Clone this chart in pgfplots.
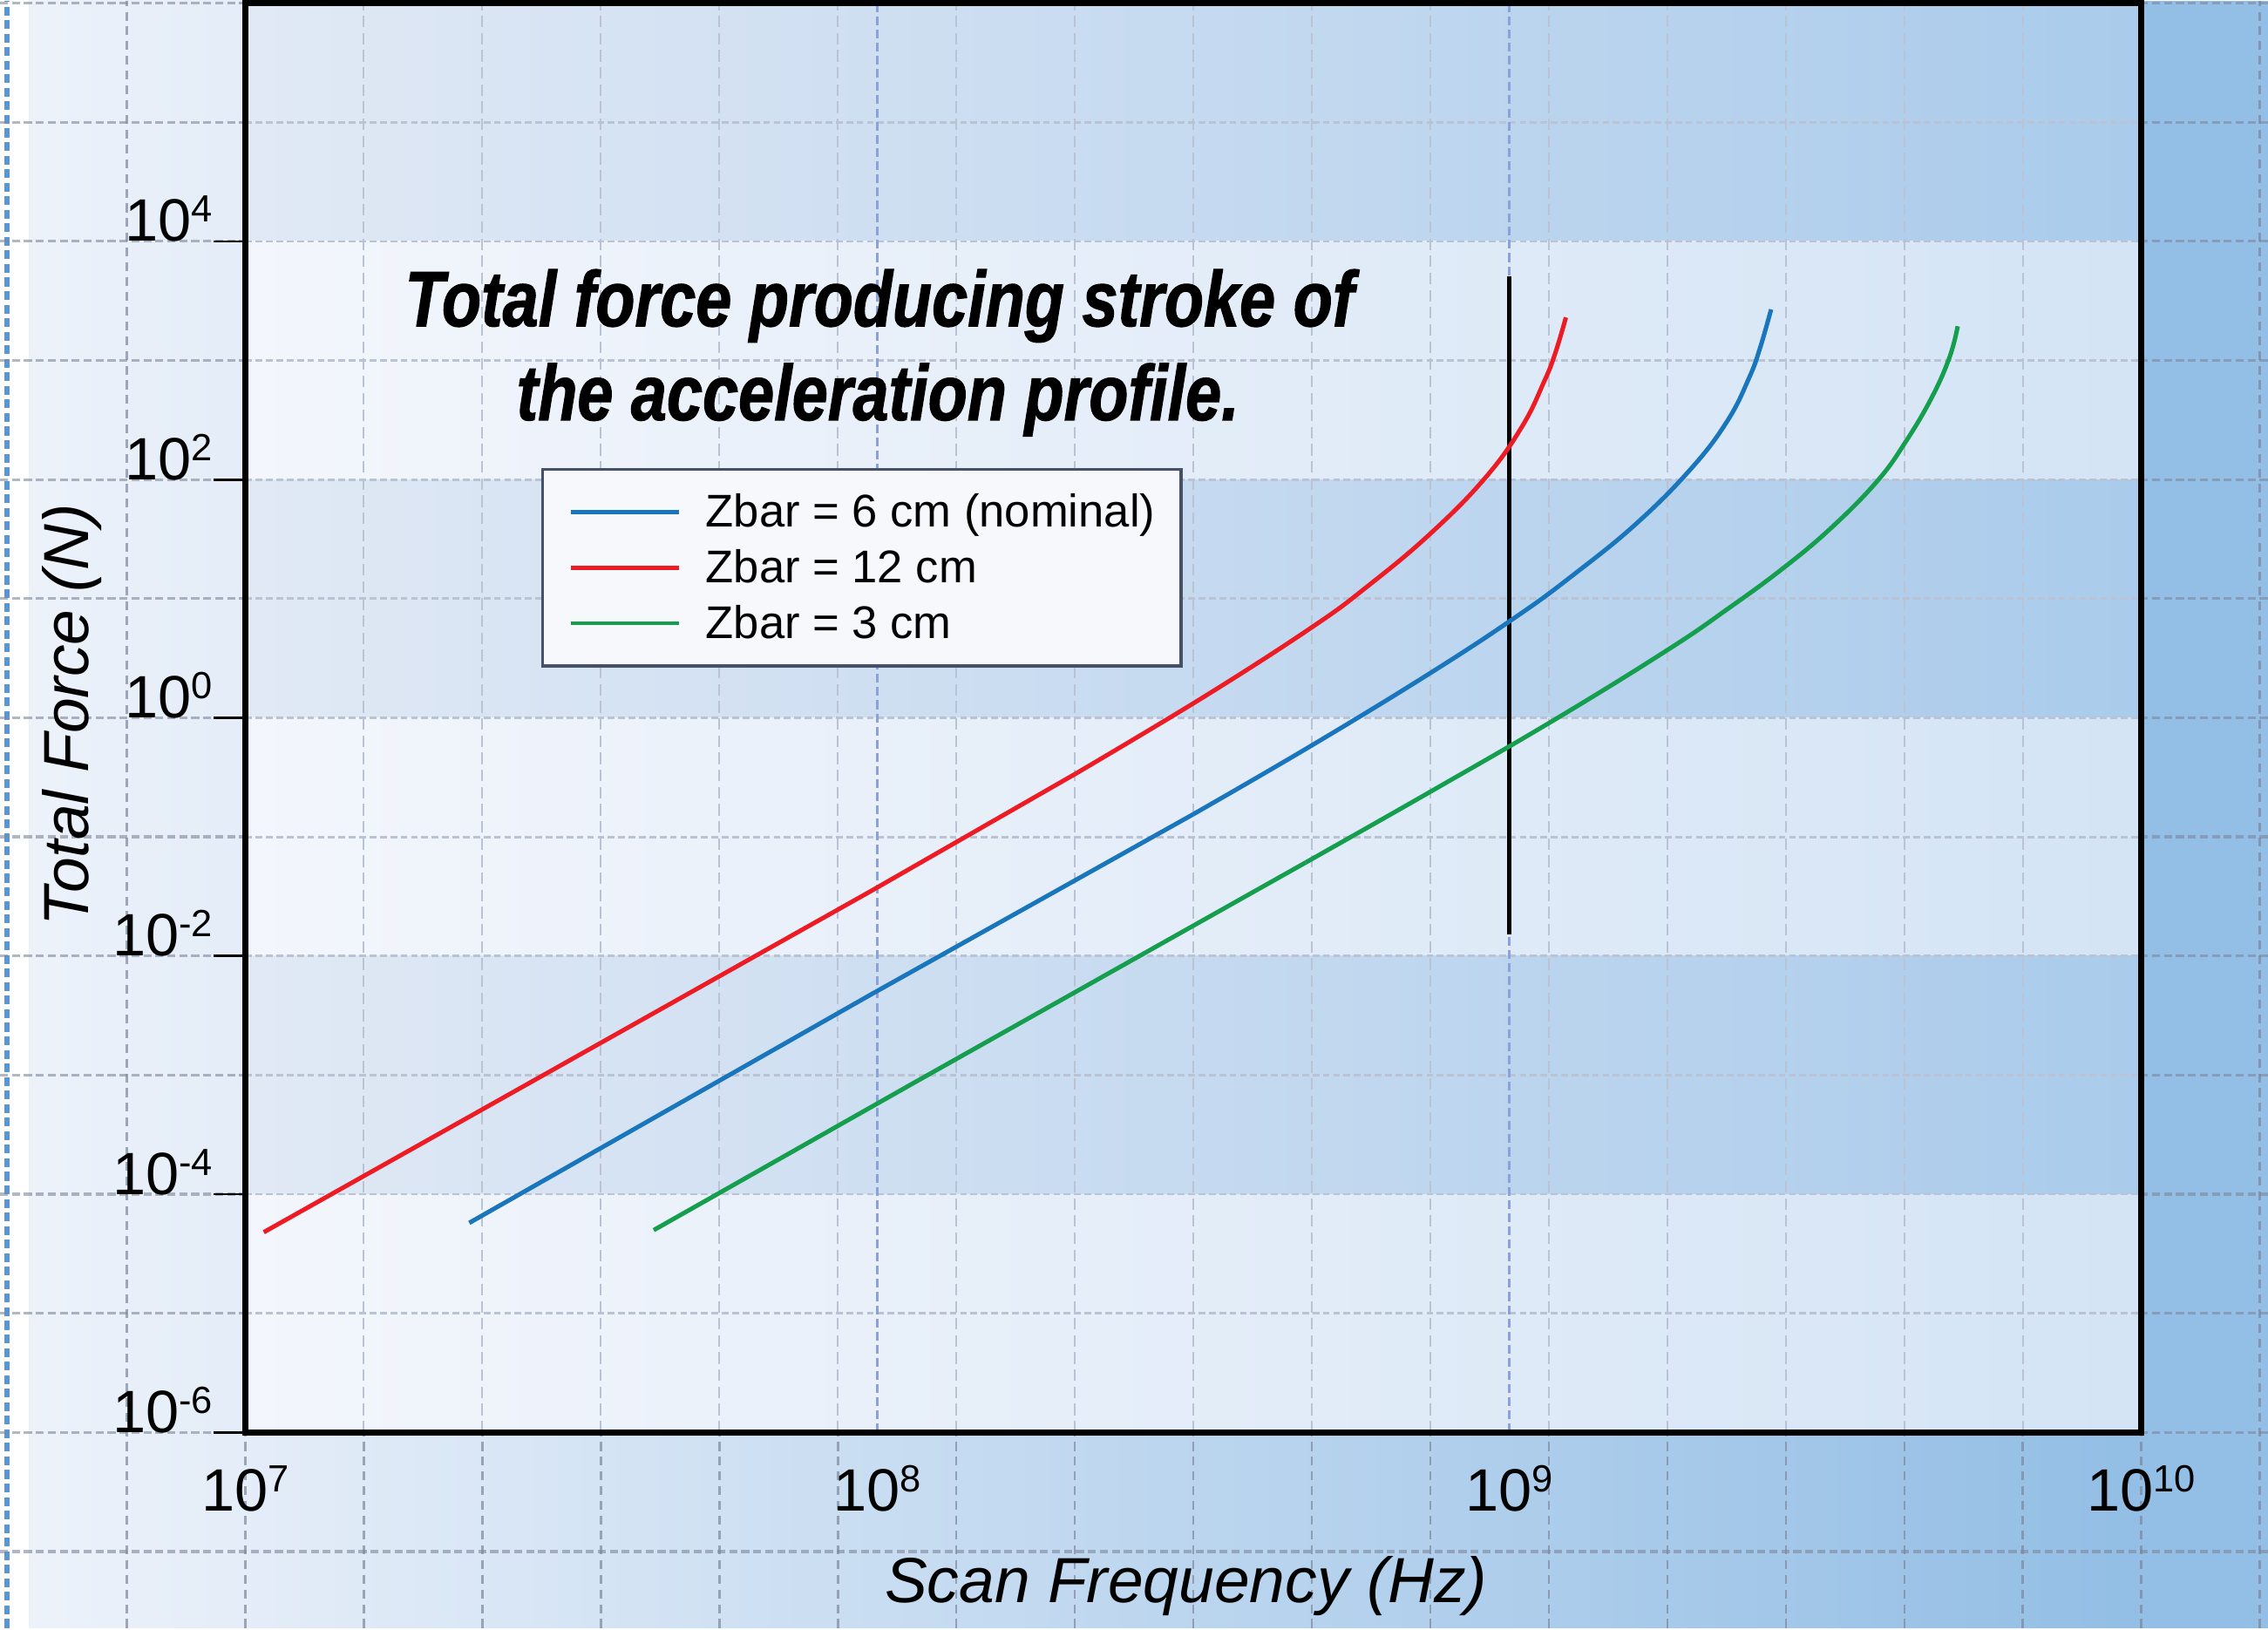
\documentclass[border=0pt]{standalone}
\usepackage{fontspec}
\setmainfont{Liberation Sans}
\newfontfamily\titlefont[FakeStretch=0.82,FakeBold=1.2]{Liberation Sans}
\usepackage{pgfplots}
\pgfplotsset{compat=1.18}

\definecolor{bgL}{RGB}{237,242,250}
\definecolor{bgR}{RGB}{147,190,229}
\definecolor{lbL}{RGB}{243,246,252}
\definecolor{lbR}{RGB}{212,228,245}
\definecolor{dbL}{RGB}{225,233,245}
\definecolor{dbR}{RGB}{170,203,235}
\definecolor{cRed}{RGB}{237,28,36}
\definecolor{cBlue}{RGB}{25,118,188}
\definecolor{cGreen}{RGB}{20,158,78}
\definecolor{gridOut}{RGB}{125,135,155}
\definecolor{gridIn}{RGB}{185,195,212}
\definecolor{gridBlue}{RGB}{140,160,218}
\definecolor{legBorder}{RGB}{70,80,102}
\definecolor{legFill}{RGB}{246,248,252}
\definecolor{edgeBlue}{RGB}{90,150,215}

\newcommand{\tl}[1]{10\raisebox{4.8pt}{\fontsize{9.5}{9.5}\selectfont#1}}

% Zbar = 6 cm (nominal): straight part and curved part
\pgfplotstableread{
x y
2.262e7 5.75e-5
9.79e7 4.78e-3
3.162e8 0.155
}\zsixA
\pgfplotstableread{
x y
3.162e8 0.155
4.87e8 0.587
7.505e8 2.382
1.0259e9 7.07
1.2616e9 15.8
1.5844e9 42.2
1.9354e9 122
2.2115e9 309
2.3955e9 715
2.4935e9 1278
2.5954e9 2684
}\zsixB

% Zbar = 12 cm
\pgfplotstableread{
x y
1.07e7 4.8e-5
9.79e7 3.53e-2
2.055e8 0.337
}\ztwelveA
\pgfplotstableread{
x y
2.055e8 0.337
3.274e8 1.481
4.861e8 5.716
5.976e8 12.80
7.505e8 35.27
9.167e8 103.9
1.0474e9 278.7
1.1348e9 662.2
1.1812e9 1137
1.229e9 2300
}\ztwelveB

% Zbar = 3 cm
\pgfplotstableread{
x y
4.43e7 5.0e-5
1.149e8 8.76e-4
4.763e8 0.061
}\zthreeA
\pgfplotstableread{
x y
4.763e8 0.061
7.505e8 0.24
1.178e9 0.961
1.785e9 3.751
2.224e9 8.33
2.699e9 17.69
3.221e9 38.76
3.817e9 96.5
4.243e9 210.1
4.667e9 496.6
4.973e9 1069
5.122e9 1939
}\zthreeB

\begin{document}
\begin{tikzpicture}
\begin{scope}[x=0.0127551cm,y=0.0127551cm]
\path[use as bounding box] (0,0) rectangle (1568,1125);
\fill[white] (0,0) rectangle (1568,1125);
\shade[left color=bgL,right color=bgR] (20,0) rectangle (1480.5,1125);
\fill[bgR] (1480.5,0) rectangle (1568,1125);
\foreach \k in {-1,...,17} {
  \draw[gridOut, line width=0.6pt, dash pattern=on 2.2pt off 1.5pt, opacity=0.7]
    ({169.5+81.9375*\k},0) -- ({169.5+81.9375*\k},1125);
}
\draw[edgeBlue, line width=1.3pt, dash pattern=on 2.2pt off 1.2pt] (5,0) -- (5,1125);
\foreach \k in {0,...,13} {
  \draw[gridOut, line width=0.7pt, dash pattern=on 2.0pt off 1.0pt, opacity=0.6]
    (0,{1123.3-82.35*\k}) -- (1568,{1123.3-82.35*\k});
}
\end{scope}

\begin{axis}[
  at={(2.16199cm,1.72321cm)}, anchor=south west,
  scale only axis, width=16.7219cm, height=12.6046cm,
  xmode=log, ymode=log,
  xmin=1e7, xmax=1e10, ymin=1e-6, ymax=1e6,
  axis on top,
  axis line style={line width=1.6pt, black},
  tick align=outside,
  major tick length=0.28cm,
  tick pos=left,
  xtick={1e7,1e8,1e9,1e10},
  xticklabels={\tl{7},\tl{8},\tl{9},\tl{10}},
  ytick={1e-6,1e-4,1e-2,1,1e2,1e4},
  yticklabels={\tl{-6},\tl{-4},\tl{-2},\tl{0},\tl{2},\tl{4}},
  xminorticks=false, yminorticks=false,
  xtick style={draw=none},
  ytick style={line width=0.6pt, black},
  tick label style={font=\fontsize{15}{15}\selectfont},
  yticklabel style={anchor=base east, inner sep=0pt},
  xticklabel style={anchor=base, yshift=-0.416cm},
  xlabel={Scan Frequency (Hz)},
  ylabel={Total Force (N)},
  label style={font=\itshape\fontsize{16}{16}\selectfont},
  xlabel style={at={(rel axis cs:0.4962,-0.1191)}, anchor=base},
  ylabel style={at={(rel axis cs:-0.0827,0.502)}, anchor=base},
  legend style={at={(rel axis cs:0.156,0.6749)}, anchor=north west,
    draw=legBorder, line width=0.8pt, fill=legFill,
    font=\fontsize{11.5}{13}\selectfont,
    inner xsep=0.2296cm, inner ysep=4.5pt, row sep=1.43pt,
    nodes={inner sep=0pt, text height=10pt, text depth=2.5pt},
    /tikz/every odd column/.append style={column sep=0.2168cm}},
  legend cell align=left,
  legend image code/.code={\draw[#1, line width=1pt] (0cm,0cm) -- (0.957cm,0cm);},
]
% background bands
\shade[left color=dbL, right color=dbR] (axis cs:1e7,1e4) rectangle (axis cs:1e10,1e6);
\shade[left color=lbL, right color=lbR] (axis cs:1e7,1e2) rectangle (axis cs:1e10,1e4);
\shade[left color=dbL, right color=dbR] (axis cs:1e7,1) rectangle (axis cs:1e10,1e2);
\shade[left color=lbL, right color=lbR] (axis cs:1e7,1e-2) rectangle (axis cs:1e10,1);
\shade[left color=dbL, right color=dbR] (axis cs:1e7,1e-4) rectangle (axis cs:1e10,1e-2);
\shade[left color=lbL, right color=lbR] (axis cs:1e7,1e-6) rectangle (axis cs:1e10,1e-4);
% paper grid inside
\pgfplotsinvokeforeach{0.0625,0.125,0.1875,0.25,0.3125,0.375,0.4375,0.5,0.5625,0.625,0.6875,0.75,0.8125,0.875,0.9375}{
  \draw[gridIn, line width=0.5pt, dash pattern=on 2.9pt off 1.4pt] (rel axis cs:#1,0) -- (rel axis cs:#1,1);
}
\pgfplotsinvokeforeach{1e-5,1e-4,1e-3,1e-2,1e-1,1,1e1,1e2,1e3,1e4,1e5}{
  \draw[gridIn, line width=0.6pt, dash pattern=on 1.7pt off 0.9pt] (axis cs:1e7,#1) -- (axis cs:1e10,#1);
}
\draw[gridBlue, line width=0.7pt, dash pattern=on 2.2pt off 1.1pt] (axis cs:1e8,1e-6) -- (axis cs:1e8,1e6);
\draw[gridBlue, line width=0.7pt, dash pattern=on 2.2pt off 1.1pt] (axis cs:1e9,1e-6) -- (axis cs:1e9,1e6);

\addplot[black, line width=1.1pt, forget plot] coordinates {(1e9,1.53e-2) (1e9,5.1e3)};

\addplot[cBlue, line width=1.1pt, forget plot] table[x=x,y=y] {\zsixA};
\addplot[cBlue, line width=1.1pt, smooth, tension=0.7] table[x=x,y=y] {\zsixB};
\addlegendentry{Zbar = 6 cm (nominal)}
\addplot[cRed, line width=1.1pt, forget plot] table[x=x,y=y] {\ztwelveA};
\addplot[cRed, line width=1.1pt, smooth, tension=0.7] table[x=x,y=y] {\ztwelveB};
\addlegendentry{Zbar = 12 cm}
\addplot[cGreen, line width=1.1pt, forget plot] table[x=x,y=y] {\zthreeA};
\addplot[cGreen, line width=1.1pt, smooth, tension=0.7] table[x=x,y=y] {\zthreeB};
\addlegendentry{Zbar = 3 cm}

\node[anchor=base, inner sep=0pt, font=\titlefont\bfseries\itshape\fontsize{19.7}{23}\selectfont]
  at (rel axis cs:0.3345,0.774) {Total force producing stroke of};
\node[anchor=base, inner sep=0pt, font=\titlefont\bfseries\itshape\fontsize{19.7}{23}\selectfont]
  at (rel axis cs:0.3337,0.7083) {the acceleration profile.};
\end{axis}
\end{tikzpicture}
\end{document}
